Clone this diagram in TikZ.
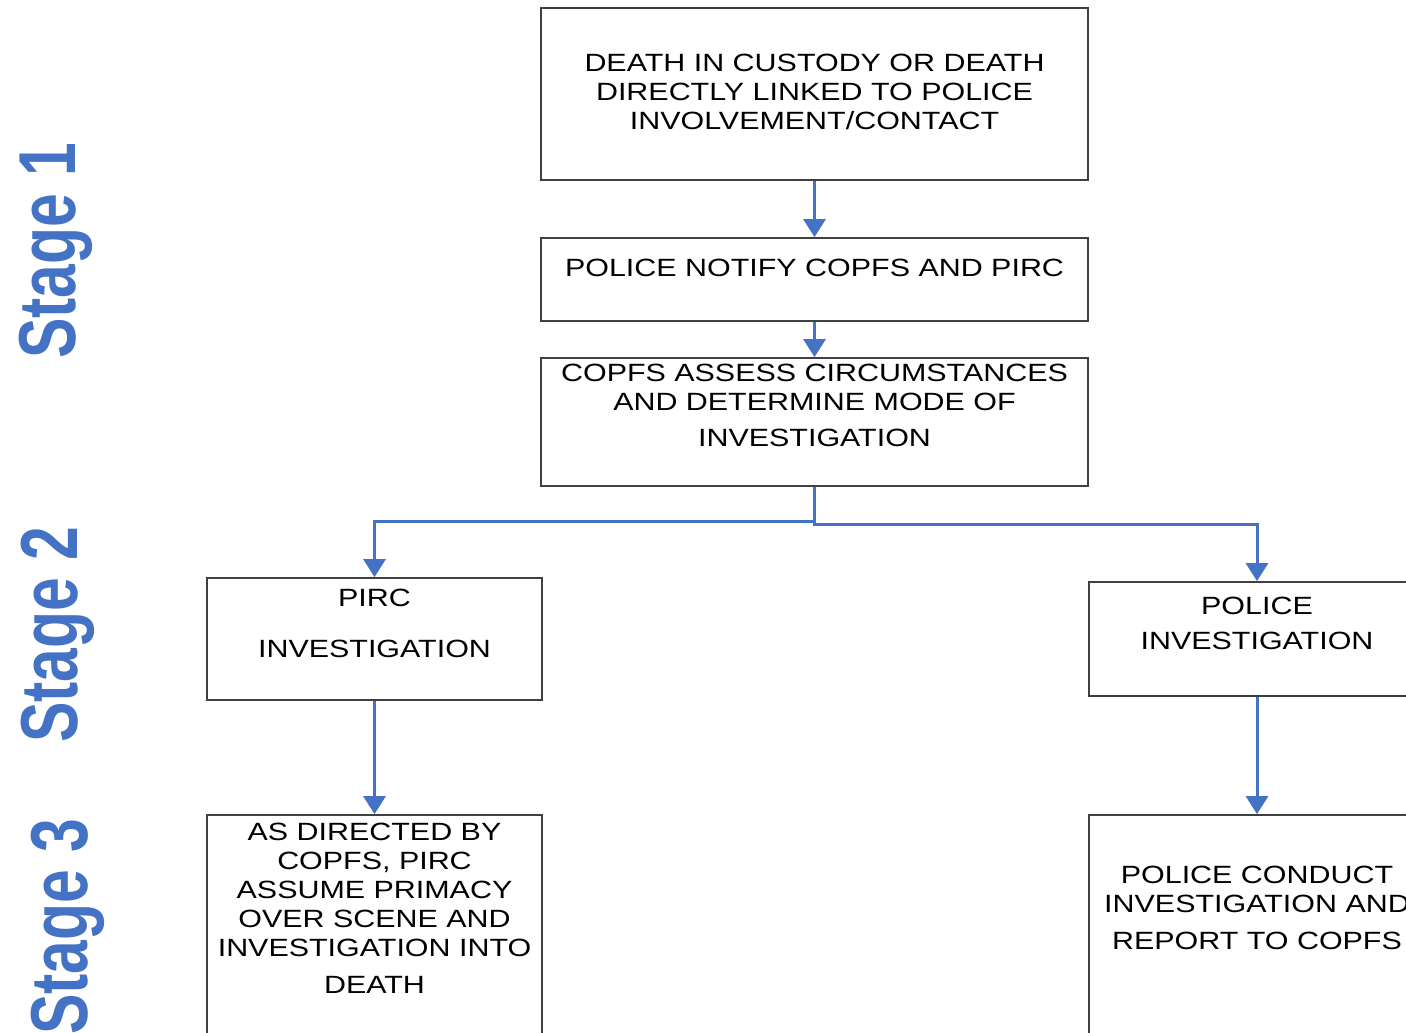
\documentclass[tikz,border=0pt]{standalone}
\usepackage{fontspec}
\setmainfont{Liberation Sans}
\newfontfamily\boxfont{Liberation Sans}[FakeStretch=1.22]
\newfontfamily\stagefont{Liberation Sans}[FakeStretch=0.75]
\usetikzlibrary{arrows.meta}
\definecolor{stageblue}{HTML}{4472C4}
\definecolor{boxgray}{HTML}{404040}

\begin{document}
\begin{tikzpicture}[x=0.02cm,y=-0.02cm,
		stepbox/.style={draw=boxgray,line width=1pt,inner sep=0pt},
		steptext/.style={anchor=north,inner sep=0pt,align=center,font=\boxfont\fontsize{14.2pt}{16.5pt}\selectfont},
		stagelabel/.style={rotate=90,inner sep=0pt,text=stageblue,font=\stagefont\bfseries\fontsize{46pt}{46pt}\selectfont},
		flow/.style={draw=stageblue,line width=1.7pt,-{Triangle[width=0.44cm,length=0.36cm]}}]
		\clip (0,0) rectangle (1406,1033);
		\node [stepbox,minimum width=10.94cm,minimum height=3.44cm] (death) at (814.5,94) {};
		\node [stepbox,minimum width=10.94cm,minimum height=1.66cm] (notify) at (814.5,279.5) {};
		\node [stepbox,minimum width=10.94cm,minimum height=2.56cm] (assess) at (814.5,422) {};
		\node [stepbox,minimum width=6.7cm,minimum height=2.44cm] (pirc) at (374.5,639) {};
		\node [stepbox,minimum width=6.72cm,minimum height=2.28cm] (police) at (1257,639) {};
		\node [stepbox,minimum width=6.7cm,minimum height=4.9cm] (directed) at (374.5,937.5) {};
		\node [stepbox,minimum width=6.72cm,minimum height=4.9cm] (conduct) at (1257,937.5) {};
		\node [steptext] (death-txt) at (814.5,54) {DEATH IN CUSTODY OR DEATH\\DIRECTLY LINKED TO POLICE\\INVOLVEMENT/CONTACT};
		\node [steptext] (notify-txt) at (814.5,259) {POLICE NOTIFY COPFS AND PIRC};
		\node [steptext] (assess-txt) at (814.5,364) {COPFS ASSESS CIRCUMSTANCES\\AND DETERMINE MODE OF\\[0.14cm]INVESTIGATION};
		\node [steptext] (pirc-txt) at (374.5,589) {PIRC\\[0.44cm]INVESTIGATION};
		\node [steptext] (police-txt) at (1257,597) {POLICE\\[0.12cm]INVESTIGATION};
		\node [steptext] (directed-txt) at (374.5,823) {AS DIRECTED BY\\COPFS, PIRC\\ASSUME PRIMACY\\OVER SCENE AND\\INVESTIGATION INTO\\[0.16cm]DEATH};
		\node [steptext] (conduct-txt) at (1257,866) {POLICE CONDUCT\\INVESTIGATION AND\\[0.16cm]REPORT TO COPFS};
		\draw [flow] (death) -- (notify);
		\draw [flow] (notify) -- (assess);
		\draw [flow] (assess.south) -- ++(0,35) -| (pirc.north);
		\draw [flow] (assess.south) -- ++(0,38) -| (police.north);
		\draw [flow] (pirc) -- (directed);
		\draw [flow] (police) -- (conduct);
		\node [stagelabel] (stage1) at (56,251) {Stage 1};
		\node [stagelabel] (stage2) at (58,635) {Stage 2};
		\node [stagelabel] (stage3) at (68,927) {Stage 3};
	\end{tikzpicture}
\end{document}
